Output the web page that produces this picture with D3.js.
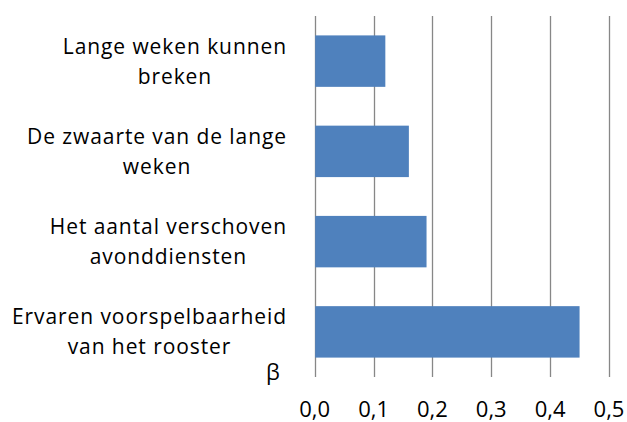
<!DOCTYPE html>
<html><head><meta charset="utf-8">
<script src="https://cdn.jsdelivr.net/npm/d3@7"></script>
<style>body{margin:0;background:#fff}svg{display:block}</style>
</head><body>
<script>
const categories = [
  ["Lange weken kunnen", "breken"],
  ["De zwaarte van de lange", "weken"],
  ["Het aantal verschoven", "avonddiensten"],
  ["Ervaren voorspelbaarheid", "van het rooster"]
];
const values = [0.12, 0.16, 0.19, 0.45];
const ticks = [0, 0.1, 0.2, 0.3, 0.4, 0.5];
const tickLabels = ["0,0", "0,1", "0,2", "0,3", "0,4", "0,5"];
const axisTitle = "β";

const W = 627, H = 422;
const FONT = "'Open Sans', 'Noto Sans', sans-serif";
const fs = 21;
const svg = d3.select("body").append("svg").attr("width", W).attr("height", H);

const x = d3.scaleLinear().domain([0, 0.5]).range([314.7, 609]);
const y = d3.scaleBand().domain(d3.range(categories.length)).range([16, 377]).paddingInner(0.43).paddingOuter(0.215);

// letter spacing so the longest label line matches the reference width
const longest = categories[3][0];
const probe = svg.append("text").attr("font-family", FONT).attr("font-size", fs).text(longest);
const ls = (275 - probe.node().getComputedTextLength()) / longest.length;
probe.remove();

// gridlines
svg.append("g").selectAll("line").data(ticks).join("line")
  .attr("x1", d => Math.round(x(d)) + 0.5).attr("x2", d => Math.round(x(d)) + 0.5)
  .attr("y1", 16).attr("y2", 377)
  .attr("stroke", "#878787").attr("stroke-width", 1.3);

// bars
svg.append("g").selectAll("rect").data(values).join("rect")
  .attr("x", x(0) + 0.5).attr("y", (d, i) => y(i))
  .attr("width", d => x(d) - x(0) - 0.5).attr("height", y.bandwidth())
  .attr("fill", "#4F81BD");

// tick labels
svg.append("g").selectAll("text").data(ticks).join("text")
  .attr("x", d => x(d)).attr("y", 417)
  .attr("text-anchor", "middle").attr("font-family", FONT).attr("font-size", 22)
  .attr("fill", "#000").text((d, i) => tickLabels[i]);

// category labels
const rightEdge = 287;
const lineH = 30;
categories.forEach((lines, i) => {
  const cy = y(i) + y.bandwidth() / 2;
  const t = svg.append("text").attr("font-family", FONT).attr("font-size", fs)
    .attr("letter-spacing", ls).attr("fill", "#000");
  lines.forEach((ln, j) => {
    t.append("tspan").attr("x", 0).attr("y", cy + (j - (lines.length - 1) / 2) * lineH + fs * 0.36).text(ln);
  });
  const widths = [];
  t.selectAll("tspan").each(function () { widths.push(this.getComputedTextLength()); });
  const maxW = d3.max(widths);
  t.selectAll("tspan").attr("x", (d, j, n) => rightEdge - maxW / 2 - widths[j] / 2);
});

// axis title
svg.append("text").attr("x", 273).attr("y", 380).attr("text-anchor", "middle")
  .attr("font-family", FONT).attr("font-size", 22).attr("fill", "#000").text(axisTitle);
</script>
</body></html>
